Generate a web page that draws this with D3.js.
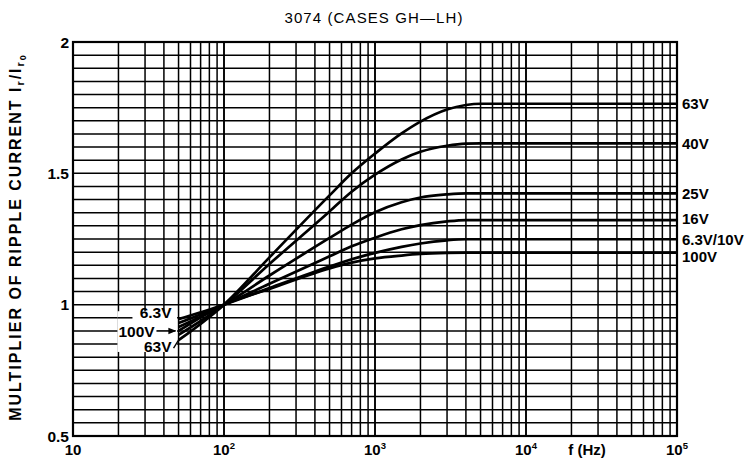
<!DOCTYPE html>
<html>
<head>
<meta charset="utf-8">
<script src="https://cdn.jsdelivr.net/npm/d3@7"></script>
<style>
  html, body { margin: 0; padding: 0; background: #fff; }
  svg { display: block; font-family: "Liberation Sans", Arial, sans-serif; }
</style>
</head>
<body>
<svg id="chart" width="745" height="461"></svg>
<script>
// ---- data ----
const freqs   = [50, 100, 200, 500, 700, 1000, 1500, 2000, 3000, 4000, 5000, 10000, 100000];
const v63     = [0.865, 1.0, 1.18, 1.416, 1.50, 1.575, 1.652, 1.697, 1.743, 1.760, 1.765, 1.765, 1.765];
const v40     = [0.885, 1.0, 1.155, 1.355, 1.43, 1.495, 1.553, 1.582, 1.605, 1.613, 1.614, 1.614, 1.614];
const v25     = [0.915, 1.0, 1.111, 1.254, 1.305, 1.352, 1.39, 1.408, 1.42, 1.424, 1.424, 1.424, 1.424];
const v16     = [0.93, 1.0, 1.08, 1.184, 1.222, 1.255, 1.287, 1.303, 1.317, 1.322, 1.322, 1.322, 1.322];
const v6310   = [0.945, 1.0, 1.063, 1.145, 1.173, 1.197, 1.22, 1.233, 1.245, 1.249, 1.249, 1.249, 1.249];
const v100    = [0.90, 1.0, 1.06, 1.138, 1.16, 1.176, 1.187, 1.193, 1.197, 1.198, 1.198, 1.198, 1.198];
const seriesNames  = ["63V", "40V", "25V", "16V", "6.3V/10V", "100V"];
const seriesValues = [v63, v40, v25, v16, v6310, v100];
const yTickValues = [0.5, 1, 1.5, 2];
const yTickLabels = ["0.5", "1", "1.5", "2"];
const xTickValues = [10, 100, 1000, 10000, 100000];
const xTickExp    = ["", "2", "3", "4", "5"];
const leftLabels  = ["6.3V", "100V", "63V"];
const titleText = "3074 (CASES GH\u2014LH)";

// ---- scales ----
const svg = d3.select("#chart");
const x = d3.scaleLog().domain([10, 100000]).range([73, 677]);
const y = d3.scaleLinear().domain([0.5, 2]).range([436, 42]);

// ---- grid ----
const vGrid = [];
for (let k = 1; k <= 4; k++) for (let m = 1; m <= 9; m++) vGrid.push(m * Math.pow(10, k));
vGrid.push(100000);
const hGrid = d3.range(0, 31).map(i => 0.5 + i * 0.05);

const g = svg.append("g");
g.selectAll("line.h").data(hGrid).join("line")
  .attr("x1", x(10)).attr("x2", x(100000))
  .attr("y1", d => y(d)).attr("y2", d => y(d))
  .attr("stroke", "#000").attr("stroke-width", 1.5);
g.selectAll("line.v").data(vGrid).join("line")
  .attr("x1", d => x(d)).attr("x2", d => x(d))
  .attr("y1", y(0.5)).attr("y2", y(2))
  .attr("stroke", "#000")
  .attr("stroke-width", d => [10, 100, 1000, 10000, 100000].includes(d) ? 1.9 : 1.5);

// frame
g.append("rect").attr("x", x(10)).attr("y", y(2))
  .attr("width", x(100000) - x(10)).attr("height", y(0.5) - y(2))
  .attr("fill", "none").attr("stroke", "#000").attr("stroke-width", 2.2);

// white label box on the left
g.append("rect").attr("x", x(20) - 1).attr("y", y(0.975))
  .attr("width", x(50) - x(20) - 0.5).attr("height", y(0.82) - y(0.975))
  .attr("fill", "#fff");
g.append("line").attr("x1", x(20) - 1).attr("x2", x(20) + 14)
  .attr("y1", y(0.95)).attr("y2", y(0.95))
  .attr("stroke", "#000").attr("stroke-width", 1.5);

// ---- curves ----
const line = d3.line()
  .x((d, i) => x(freqs[i]))
  .y(d => y(d))
  .curve(d3.curveMonotoneX);
g.selectAll("path.curve").data(seriesValues).join("path")
  .attr("class", "curve")
  .attr("d", d => line(d))
  .attr("fill", "none").attr("stroke", "#000").attr("stroke-width", 2.7);

// ---- right labels ----
const labelOffsets = [0, 0, 0, -1, 0, 4];
svg.selectAll("text.rl").data(seriesNames).join("text")
  .attr("x", 682)
  .attr("y", (d, i) => y(seriesValues[i][seriesValues[i].length - 1]) + labelOffsets[i])
  .attr("dy", "0.36em")
  .attr("font-size", 15).attr("font-weight", "bold")
  .text(d => d);

// ---- left labels ----
svg.append("text").attr("x", x(50) - 7).attr("y", y(0.97)).attr("dy", "0.36em")
  .attr("text-anchor", "end").attr("font-size", 15.5).attr("font-weight", "bold").text(leftLabels[0]);
svg.append("text").attr("x", x(20) + 0).attr("y", y(0.9)).attr("dy", "0.36em")
  .attr("font-size", 15.5).attr("font-weight", "bold").text(leftLabels[1]);
svg.append("text").attr("x", x(50) - 7).attr("y", y(0.84)).attr("dy", "0.36em")
  .attr("text-anchor", "end").attr("font-size", 15.5).attr("font-weight", "bold").text(leftLabels[2]);
// arrow for 100V
svg.append("defs").append("marker").attr("id", "arr")
  .attr("viewBox", "0 0 10 10").attr("refX", 9).attr("refY", 5)
  .attr("markerWidth", 5).attr("markerHeight", 5).attr("orient", "auto")
  .append("path").attr("d", "M0,1 L10,5 L0,9 Z").attr("fill", "#000");
svg.append("line").attr("x1", x(20) + 38).attr("x2", x(50) - 3)
  .attr("y1", y(0.9)).attr("y2", y(0.9))
  .attr("stroke", "#000").attr("stroke-width", 1.6).attr("marker-end", "url(#arr)");
// leader for 63V
svg.append("line").attr("x1", x(50) - 5).attr("x2", x(50))
  .attr("y1", y(0.835)).attr("y2", y(0.865))
  .attr("stroke", "#000").attr("stroke-width", 1.4);

// ---- y tick labels ----
svg.selectAll("text.yt").data(yTickValues).join("text")
  .attr("x", 69).attr("y", d => y(d)).attr("dy", "0.36em")
  .attr("text-anchor", "end").attr("font-size", 15.5).attr("font-weight", "bold")
  .text((d, i) => yTickLabels[i]);

// ---- x tick labels ----
const xt = svg.selectAll("text.xt").data(xTickValues).join("text")
  .attr("x", d => x(d)).attr("y", 455)
  .attr("text-anchor", "middle").attr("font-size", 15).attr("font-weight", "bold");
xt.append("tspan").text("10");
xt.append("tspan").attr("dy", -6).attr("font-size", 9.5).text((d, i) => xTickExp[i]);
svg.append("text").attr("x", 587).attr("y", 455).attr("text-anchor", "middle")
  .attr("font-size", 15).attr("font-weight", "bold").text("f (Hz)");

// ---- title ----
svg.append("text").attr("x", 374).attr("y", 23).attr("text-anchor", "middle")
  .attr("font-size", 15).attr("letter-spacing", 1.1).text(titleText);

// ---- y axis title ----
const yt = svg.append("text")
  .attr("transform", "translate(21,237) rotate(-90)")
  .attr("text-anchor", "middle").attr("font-size", 16).attr("font-weight", "bold")
  .attr("letter-spacing", 2.0);
yt.append("tspan").text("MULTIPLIER OF RIPPLE CURRENT I");
yt.append("tspan").attr("font-size", 11).attr("dy", 3).text("r");
yt.append("tspan").attr("font-size", 16).attr("dy", -3).text("/I");
yt.append("tspan").attr("font-size", 11).attr("dy", 3).text("r");
yt.append("tspan").attr("font-size", 9).attr("dy", 2).text("0");
</script>
</body>
</html>
